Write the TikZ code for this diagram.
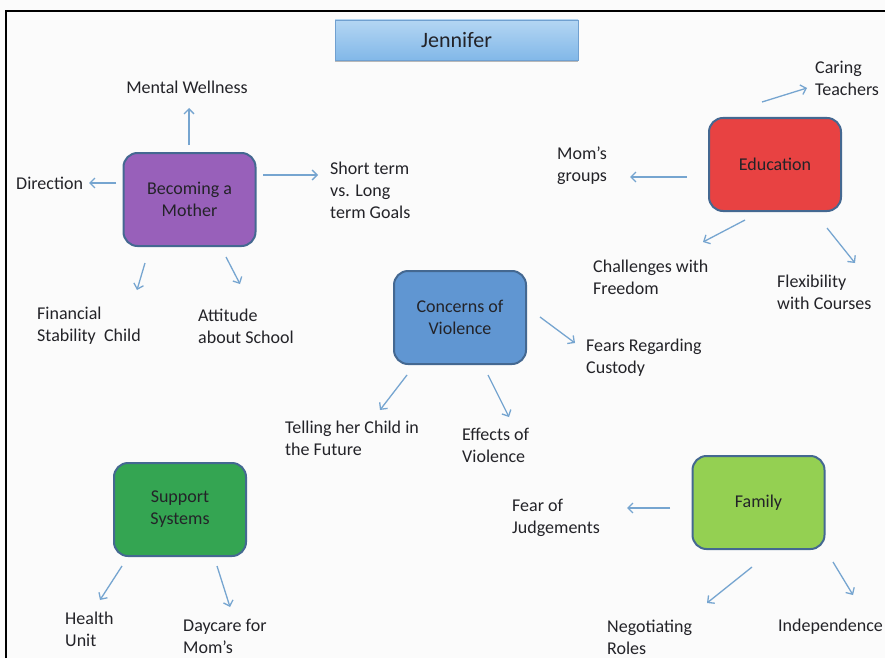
\documentclass[tikz,border=0pt]{standalone}
\usepackage{fontspec}
\setmainfont{Carlito}
\usetikzlibrary{arrows.meta,shadows}

\definecolor{paper}{RGB}{251,251,251}
\definecolor{ink}{RGB}{35,35,40}
\definecolor{edge}{RGB}{68,104,145}
\definecolor{arrowblue}{RGB}{118,165,208}
\definecolor{motherfill}{RGB}{152,96,186}
\definecolor{edufill}{RGB}{232,66,66}
\definecolor{violfill}{RGB}{96,150,210}
\definecolor{supportfill}{RGB}{52,165,82}
\definecolor{familyfill}{RGB}{148,208,82}
\definecolor{titletop}{RGB}{180,214,243}
\definecolor{titlebot}{RGB}{130,184,232}
\definecolor{titleedge}{RGB}{112,160,208}

\tikzset{
  topicbox/.style={draw=edge, line width=2pt, rounded corners=14pt,
    minimum width=132pt, minimum height=93pt, align=center,
    text=ink, font=\fontsize{18}{22}\selectfont},
  leaf/.style={anchor=west, align=left, text=ink,
    font=\fontsize{18}{22}\selectfont, inner sep=0pt},
  link/.style={draw=arrowblue, line width=1.3pt,
    -{Straight Barb[length=5pt,width=10pt,line width=1.3pt]}},
}

\begin{document}
\begin{tikzpicture}[x=1pt,y=-1pt]
  % page and frame
  \fill[paper] (0,0) rectangle (885,658);
  \useasboundingbox (0,0) rectangle (885,658);
  \draw[black, line width=2pt] (6,658) -- (6,11) -- (885,11);

  % title
  \node[draw=titleedge, line width=0.8pt, top color=titletop, bottom color=titlebot,
        minimum width=243pt, minimum height=40pt, text=ink,
        font=\fontsize{22}{26}\selectfont,
        drop shadow={shadow xshift=0pt, shadow yshift=-2.5pt, fill=black!45, opacity=0.6}]
        (title) at (456.5,40) {Jennifer};

  % topic boxes
  \node[topicbox, fill=motherfill]  (mother)  at (189.5,199.5) {Becoming a\\Mother};
  \node[topicbox, fill=edufill]     (edu)     at (775,164.5)   {Education};
  \node[topicbox, fill=violfill]    (viol)    at (460,317.5)   {Concerns of\\Violence};
  \node[topicbox, fill=supportfill] (support) at (180,509.5)   {Support\\Systems};
  \node[topicbox, fill=familyfill]  (family)  at (758.5,502.5) {Family};

  % leaf labels
  \node[text=ink, font=\fontsize{18}{22}\selectfont, inner sep=0pt] (wellness) at (187,87) {Mental Wellness};
  \node[leaf] (direction) at (16,183) {Direction};
  \node[leaf] (goals)     at (330,190) {Short term\\vs. Long\\term Goals};
  \node[leaf] (finance)   at (37,326) {Financial\\Stability\ \ Child};
  \node[leaf] (attitude)  at (198,326) {Attitude\\about School};
  \node[leaf] (teachers)  at (815,78) {Caring\\Teachers};
  \node[leaf] (groups)    at (557,166) {Mom’s\\groups};
  \node[leaf] (freedom)   at (593,277) {Challenges with\\Freedom};
  \node[leaf] (courses)   at (777,292) {Flexibility\\with Courses};
  \node[leaf] (custody)   at (586,358) {Fears Regarding\\Custody};
  \node[leaf] (telling)   at (285,438) {Telling her Child in\\the Future};
  \node[leaf] (effects)   at (462,445) {Effects of\\Violence};
  \node[leaf] (health)    at (65,629) {Health\\Unit};
  \node[leaf] (daycare)   at (183,636) {Daycare for\\Mom’s};
  \node[leaf] (judge)     at (512,518) {Fear of\\Judgements};
  \node[leaf] (roles)     at (607,637) {Negotiating\\Roles};
  \node[leaf] (indep)     at (778,627) {Independence};

  % arrow end points
  \coordinate (m1a) at (189,145); \coordinate (m1b) at (189,108);
  \coordinate (m2a) at (116,183); \coordinate (m2b) at (89,183);
  \coordinate (m3a) at (263,175); \coordinate (m3b) at (318,175);
  \coordinate (m4a) at (145,263); \coordinate (m4b) at (137,290);
  \coordinate (m5a) at (226,257); \coordinate (m5b) at (240,284);
  \coordinate (e1a) at (762,102); \coordinate (e1b) at (807,88);
  \coordinate (e2a) at (687,177); \coordinate (e2b) at (630,177);
  \coordinate (e3a) at (745,220); \coordinate (e3b) at (703,242);
  \coordinate (e4a) at (827,228); \coordinate (e4b) at (855,263);
  \coordinate (v1a) at (540,317); \coordinate (v1b) at (575,343);
  \coordinate (v2a) at (407,375); \coordinate (v2b) at (380,410);
  \coordinate (v3a) at (488,375); \coordinate (v3b) at (509,417);
  \coordinate (s1a) at (122,566); \coordinate (s1b) at (100,600);
  \coordinate (s2a) at (217,566); \coordinate (s2b) at (230,607);
  \coordinate (f1a) at (670,508); \coordinate (f1b) at (627,508);
  \coordinate (f2a) at (752,567); \coordinate (f2b) at (707,603);
  \coordinate (f3a) at (833,562); \coordinate (f3b) at (853,595);

  % connectors
  \foreach \p in {m1,m2,m3,m4,m5,e1,e2,e3,e4,v1,v2,v3,s1,s2,f1,f2,f3}
    \draw[link] (\p a) -- (\p b);
\end{tikzpicture}
\end{document}
